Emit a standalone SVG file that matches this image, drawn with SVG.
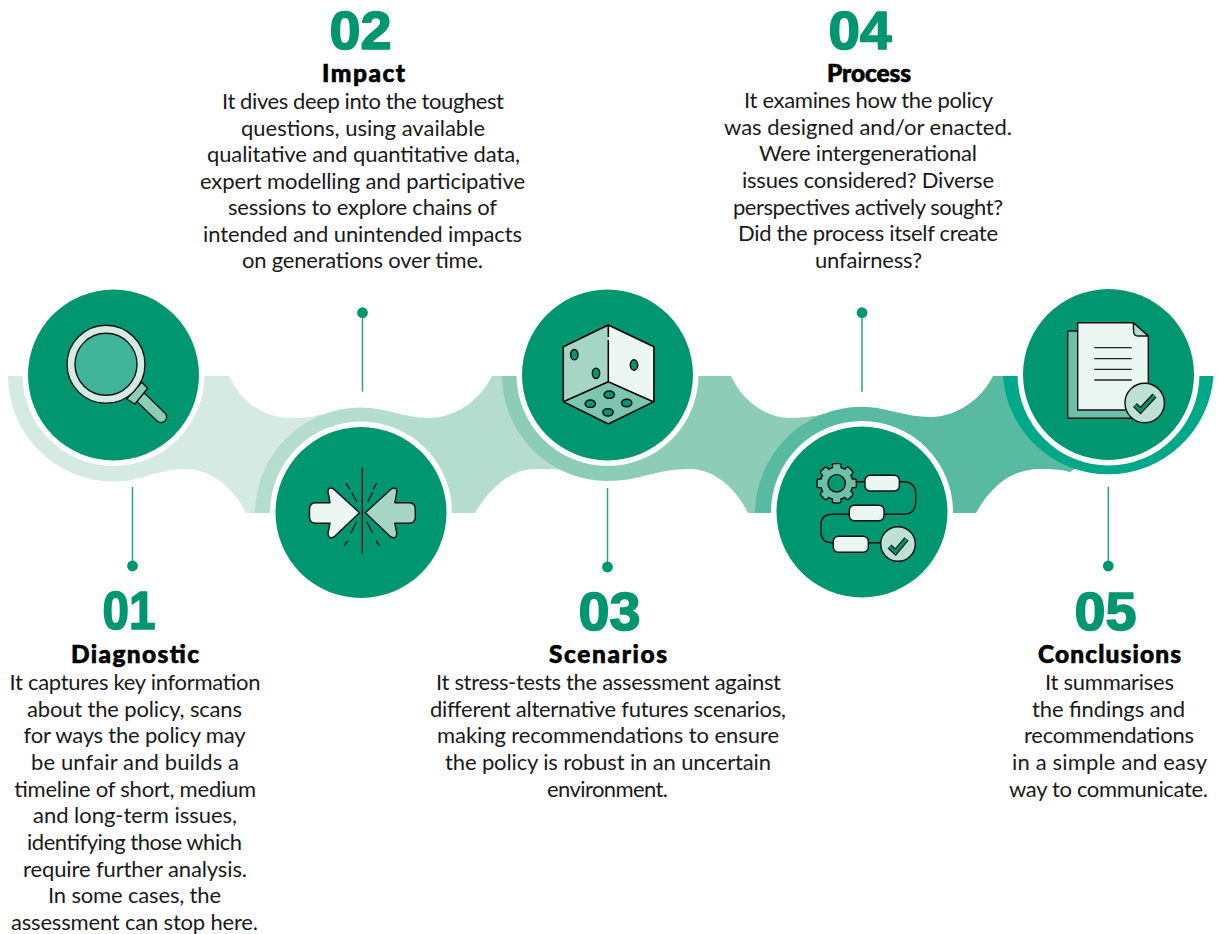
<svg xmlns="http://www.w3.org/2000/svg" xmlns:xlink="http://www.w3.org/1999/xlink" width="1219" height="934" viewBox="0 0 1219 934">
<style>
text{font-family:Lato,"Open Sans","Liberation Sans",sans-serif}
.b{font-size:22px;fill:#1a1a1a;font-weight:400}
.t{font-size:24.5px;fill:#000;font-weight:900;stroke:#000;stroke-width:.6}
.n{font-family:"Liberation Sans",Arial,sans-serif;font-size:54px;fill:#00966f;font-weight:700;stroke:#00966f;stroke-width:1.6;stroke-linejoin:round}
.disc{fill:#00966f}
.ring{fill:#fff}
.o{stroke:#111;stroke-width:1.4;stroke-linejoin:round}
.conn line{stroke:#2aa584;stroke-width:1.5}
.conn circle{fill:#00966f}
</style>
<defs>
<g id="gear"><circle r="15.5"/><rect x="-3.6" y="-19" width="7.2" height="38" rx="1.2"/><rect x="-3.6" y="-19" width="7.2" height="38" rx="1.2" transform="rotate(45)"/><rect x="-3.6" y="-19" width="7.2" height="38" rx="1.2" transform="rotate(90)"/><rect x="-3.6" y="-19" width="7.2" height="38" rx="1.2" transform="rotate(135)"/></g>
<path id="arrow" d="M316,502.7H330L328,492Q328,486.5 333,488.5L359.5,512.7L334,537Q328,539.5 328,533L330,523.3H316Q309.5,523.3 309.5,517V509Q309.5,502.7 316,502.7Z"/>
</defs>

<g id="step-1">
<path fill="#d5eae3" d="M8,376A105.5,105.5 0 0 0 113.5,481.5C145,481.5 155,469 185,469C213,469 235,490 246,513L300,513L335,425L322,414C310,418 300,418 290,418C262,418 240,400 229,376Z"/>
<circle class="ring" cx="113.5" cy="375" r="91"/><circle class="disc" cx="113.5" cy="375" r="85.5"/>
<g id="icon-magnifier">
<line x1="141.7" y1="398.3" x2="161" y2="417" stroke="#111" stroke-width="12.5" stroke-linecap="round"/>
<line x1="141.7" y1="398.3" x2="161" y2="417" stroke="#8dccb7" stroke-width="10" stroke-linecap="round"/>
<path class="o" fill="#8dccb7" d="M126.7,399L141.7,382.3L147.7,388.3L135,404Z"/>
<circle class="o" cx="106" cy="364.3" r="39" fill="#d5eae3"/>
<circle class="o" cx="106" cy="364.3" r="31" fill="#40b59a"/>
</g>
<text class="n" x="102.5" y="629" textLength="53" lengthAdjust="spacingAndGlyphs">01</text>
<text class="t" x="71" y="663" textLength="128">Diagnostic</text>
<text class="b" x="9.5" y="690" textLength="251">It captures key information</text>
<text class="b" x="27" y="716.7" textLength="215">about the policy, scans</text>
<text class="b" x="23.5" y="743.3" textLength="222">for ways the policy may</text>
<text class="b" x="31" y="770" textLength="208">be unfair and builds a</text>
<text class="b" x="14" y="796.7" textLength="242">timeline of short, medium</text>
<text class="b" x="33" y="823.3" textLength="204">and long-term issues,</text>
<text class="b" x="27" y="850" textLength="215">identifying those which</text>
<text class="b" x="23" y="876.7" textLength="224">require further analysis.</text>
<text class="b" x="48" y="903.3" textLength="173">In some cases, the</text>
<text class="b" x="11" y="930" textLength="247">assessment can stop here.</text>
</g>

<g id="step-2">
<path fill="#b4dccf" d="M255,513A106,106 0 0 1 361,407.5C385,407.5 405,418 428,418C456,418 480,400 492,376L520,376L580,465L570,471C560,469 550,469 535,469C510,469 488,490 475,513Z"/>
<circle class="ring" cx="361" cy="512.5" r="91"/><circle class="disc" cx="361" cy="512.5" r="85.5"/>
<g id="icon-arrows">
<use xlink:href="#arrow" href="#arrow" class="o" fill="#ebf5f1"/>
<use xlink:href="#arrow" href="#arrow" class="o" fill="#a6d5c5" transform="translate(724.8,0) scale(-1,1)"/>
<path fill="none" stroke="#111" stroke-width="1.3" d="M362.3,467.7V553.3M346,483.3L350,489.3M351.7,492.3L356.7,501.7M376.7,483.3L373.3,489.3M372.7,492.3L367.7,501.7M356.7,521.7L350.7,533.3M347.7,540.7L344.3,545.7M366.7,521.7L372.7,533.3M376,540.7L379.3,545.7"/>
</g>
<text class="n" x="329.5" y="49" textLength="62" lengthAdjust="spacingAndGlyphs">02</text>
<text class="t" x="322" y="82" textLength="83">Impact</text>
<text class="b" x="222" y="109" textLength="282">It dives deep into the toughest</text>
<text class="b" x="241" y="135.5" textLength="244">questions, using available</text>
<text class="b" x="207" y="162" textLength="313">qualitative and quantitative data,</text>
<text class="b" x="200" y="188.5" textLength="325">expert modelling and participative</text>
<text class="b" x="228" y="215" textLength="269">sessions to explore chains of</text>
<text class="b" x="203" y="241.5" textLength="319">intended and unintended impacts</text>
<text class="b" x="242" y="268" textLength="241">on generations over time.</text>
</g>

<g id="step-3">
<path fill="#8dccb7" d="M502,376A105.5,105.5 0 0 0 607.5,481C640,481 655,469 690,469C715,469 737,490 748,513L800,513L840,420L835,411C825,414 810,418 790,418C765,418 742,400 731,376Z"/>
<circle class="ring" cx="607.5" cy="375" r="91"/><circle class="disc" cx="607.5" cy="375" r="85.5"/>
<g id="icon-die">
<path fill="#a6d5c5" d="M608.3,325L563.3,346.7V401.7L608.3,381.7Z"/>
<path fill="#ebf5f1" d="M608.3,325L653.3,346.7V401.7L608.3,381.7Z"/>
<path fill="#7cc5ae" d="M608.3,381.7L563.3,401.7L608.3,424L653.3,401.7Z"/>
<path fill="none" stroke="#000" stroke-width="1.5" stroke-linejoin="round" d="M608.3,325L654,346.7V401.7L608.3,424L563.3,401.7V346.7Z M563.3,401.7L608.3,381.7L653.3,401.7M608.3,381.7V340M608.3,337V325"/>
<g fill="#00966f" stroke="#000" stroke-width="1.4">
<ellipse cx="574.3" cy="354.7" rx="3.7" ry="5.2"/><ellipse cx="596" cy="373.3" rx="3.7" ry="5.2"/><ellipse cx="634" cy="365" rx="3.7" ry="5.2"/>
<ellipse cx="609.3" cy="394.7" rx="5.2" ry="3.7"/><ellipse cx="590.3" cy="403.7" rx="5.2" ry="3.7"/><ellipse cx="626.7" cy="403" rx="5.2" ry="3.7"/><ellipse cx="608" cy="412.3" rx="5.2" ry="3.7"/>
</g>
</g>
<text class="n" x="578.5" y="629.5" textLength="62" lengthAdjust="spacingAndGlyphs">03</text>
<text class="t" x="549" y="663" textLength="118">Scenarios</text>
<text class="b" x="436" y="690" textLength="345">It stress-tests the assessment against</text>
<text class="b" x="430" y="716.7" textLength="356">different alternative futures scenarios,</text>
<text class="b" x="437" y="743.3" textLength="342">making recommendations to ensure</text>
<text class="b" x="445" y="770" textLength="326">the policy is robust in an uncertain</text>
<text class="b" x="547" y="796.7" textLength="121">environment.</text>
</g>

<g id="step-4">
<path fill="#58baa1" d="M755,513A107,107 0 0 1 862,406.7C885,406.7 905,417 930,417C958,417 982,398 993,376L1030,376L1080,465L1070,472C1060,469 1050,469 1040,469C1010,469 990,488 976,513Z"/>
<circle class="ring" cx="862" cy="512" r="91"/><circle class="disc" cx="862" cy="512" r="85.5"/>
<g id="icon-process">
<use xlink:href="#gear" href="#gear" transform="translate(836.7,483.3)" fill="#111" stroke="#111" stroke-width="2.8"/>
<use xlink:href="#gear" href="#gear" transform="translate(836.7,483.3)" fill="#6cc0a8"/>
<circle class="o" cx="836.7" cy="483.3" r="8.7" fill="#00966f"/>
<path fill="none" stroke="#111" stroke-width="1.4" d="M855.7,481.7H866M898,481.7H903Q915.7,481.7 915.7,494V502Q915.7,514.3 903,514.3H883M850,514.3H832Q821,514.3 821,525V532Q821,542.7 832,542.7H834M867,542.7H881"/>
<rect class="o" x="865" y="475.3" width="34.3" height="15.7" rx="5" fill="#ebf5f1"/>
<rect class="o" x="849.3" y="505.3" width="34.7" height="15.4" rx="5" fill="#ebf5f1"/>
<rect class="o" x="833.3" y="536.3" width="35" height="16" rx="5" fill="#ebf5f1"/>
<circle class="o" cx="898" cy="544" r="17.3" fill="#bfe1d5"/>
<path fill="none" stroke="#111" stroke-width="5.5" d="M889.5,546.5L895.5,552L906.5,539"/>
<path fill="none" stroke="#00966f" stroke-width="3" d="M889.5,546.5L895.5,552L906.5,539"/>
</g>
<text class="n" x="828.5" y="49" textLength="63" lengthAdjust="spacingAndGlyphs">04</text>
<text class="t" x="827" y="82" textLength="84">Process</text>
<text class="b" x="744" y="108" textLength="249">It examines how the policy</text>
<text class="b" x="724" y="134.7" textLength="288">was designed and/or enacted.</text>
<text class="b" x="759" y="161.3" textLength="218">Were intergenerational</text>
<text class="b" x="742" y="188" textLength="252">issues considered? Diverse</text>
<text class="b" x="733" y="214.7" textLength="270">perspectives actively sought?</text>
<text class="b" x="738" y="241.3" textLength="260">Did the process itself create</text>
<text class="b" x="815" y="268" textLength="107">unfairness?</text>
</g>

<g id="step-5">
<path fill="#00a88a" d="M1003,376A105.5,105.5 0 0 0 1213.5,376Z"/>
<circle class="ring" cx="1108.5" cy="374.5" r="91"/><circle class="disc" cx="1108.5" cy="374.5" r="85.5"/>
<g id="icon-document">
<rect class="o" x="1067.7" y="331" width="65" height="87.3" rx="1.5" fill="#6cc0a8"/>
<path class="o" fill="#ebf5f1" d="M1077.7,322.7H1133.3L1148.3,336V410H1077.7Z"/>
<path class="o" fill="#b4dccf" d="M1133.3,322.7L1148.3,336H1138Q1134,336 1133.7,332Z"/>
<path fill="none" stroke="#222" stroke-width="1.3" d="M1094.3,347.7H1131.7M1094.3,358.7H1131.7M1094.3,369.3H1131.7M1094.3,380H1131.7"/>
<circle class="o" cx="1144.7" cy="403" r="19.7" fill="#bfe1d5"/>
<path fill="none" stroke="#111" stroke-width="5.5" d="M1135,405L1140.5,410.5L1154.5,395.5"/>
<path fill="none" stroke="#00966f" stroke-width="3" d="M1135,405L1140.5,410.5L1154.5,395.5"/>
</g>
<text class="n" x="1074.5" y="629.5" textLength="62" lengthAdjust="spacingAndGlyphs">05</text>
<text class="t" x="1038" y="663" textLength="143">Conclusions</text>
<text class="b" x="1045" y="690" textLength="129">It summarises</text>
<text class="b" x="1032" y="716.7" textLength="153">the findings and</text>
<text class="b" x="1024" y="743.3" textLength="170">recommendations</text>
<text class="b" x="1012" y="770" textLength="195">in a simple and easy</text>
<text class="b" x="1009" y="796.7" textLength="199">way to communicate.</text>
</g>

<g id="connectors" class="conn">
<line x1="132.5" y1="487" x2="132.5" y2="566"/><circle cx="132.5" cy="566" r="5.4"/>
<line x1="362.5" y1="313" x2="362.5" y2="391.7"/><circle cx="362.5" cy="312.7" r="5.4"/>
<line x1="607.5" y1="488" x2="607.5" y2="567"/><circle cx="607.5" cy="567" r="5.4"/>
<line x1="862" y1="313" x2="862" y2="391.7"/><circle cx="862" cy="312.7" r="5.4"/>
<line x1="1108.3" y1="486.7" x2="1108.3" y2="566"/><circle cx="1108.3" cy="566" r="5.4"/>
</g>
</svg>
